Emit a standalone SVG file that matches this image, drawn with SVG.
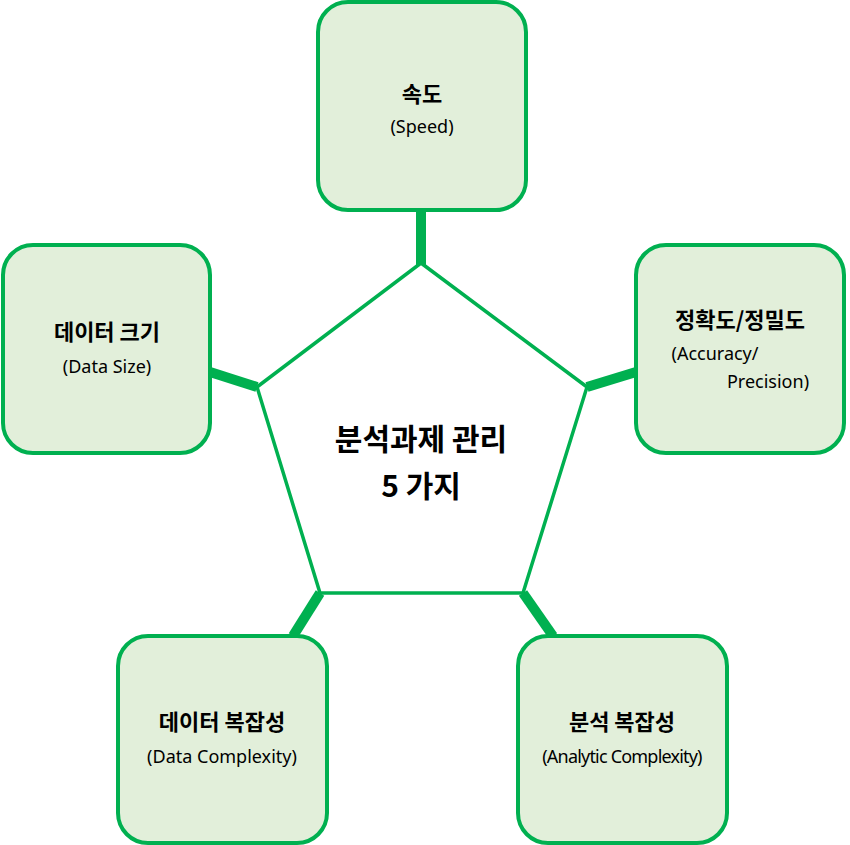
<svg xmlns="http://www.w3.org/2000/svg" width="850" height="845" viewBox="0 0 850 845">
<style>
.box{fill:#e2efda;stroke:#00b050;stroke-width:4}
.t{font-family:"Noto Sans CJK KR","Noto Sans",sans-serif;font-weight:bold;font-size:22px;fill:#000;text-anchor:middle}
.s{font-family:"Noto Sans","Open Sans",sans-serif;font-size:18px;fill:#000;text-anchor:middle}
.c{font-family:"Noto Sans CJK KR",sans-serif;font-weight:bold;font-size:30px;fill:#000;text-anchor:middle}
.con{stroke:#00b050;stroke-width:10;fill:none}
</style>
<g id="connectors">
<line class="con" x1="421" y1="265" x2="421" y2="210"/>
<line class="con" x1="587" y1="387" x2="636" y2="372"/>
<line class="con" x1="523" y1="593" x2="553" y2="636"/>
<line class="con" x1="320" y1="593" x2="293" y2="636"/>
<line class="con" x1="257" y1="387" x2="210" y2="372"/>
</g>
<g id="center">
<polygon points="421,263 587,387 523,593 320,593 257,387" fill="#fff" stroke="#00b050" stroke-width="3.5"/>
<text class="c" x="421" y="450">분석과제 관리</text>
<text class="c" x="421" y="497">5 가지</text>
</g>
<g id="speed">
<rect class="box" x="318" y="2" width="208" height="208" rx="30"/>
<text class="t" x="422" y="102">속도</text>
<text class="s" x="422" y="133">(Speed)</text>
</g>
<g id="accuracy">
<rect class="box" x="636" y="245" width="208" height="208" rx="30"/>
<text class="t" x="740" y="328">정확도/정밀도</text>
<text class="s" x="715" y="360">(Accuracy/</text>
<text class="s" x="768" y="388">Precision)</text>
</g>
<g id="datasize">
<rect class="box" x="3" y="245" width="207" height="208" rx="30"/>
<text class="t" x="107" y="340">데이터 크기</text>
<text class="s" x="107" y="373">(Data Size)</text>
</g>
<g id="datacomplexity">
<rect class="box" x="118" y="636" width="209" height="207" rx="30"/>
<text class="t" x="222" y="730">데이터 복잡성</text>
<text class="s" x="222" y="763">(Data Complexity)</text>
</g>
<g id="analyticcomplexity">
<rect class="box" x="518" y="636" width="209" height="207" rx="30"/>
<text class="t" x="622" y="730">분석 복잡성</text>
<text class="s" x="622" y="763" style="letter-spacing:-0.8px">(Analytic Complexity)</text>
</g>
</svg>
